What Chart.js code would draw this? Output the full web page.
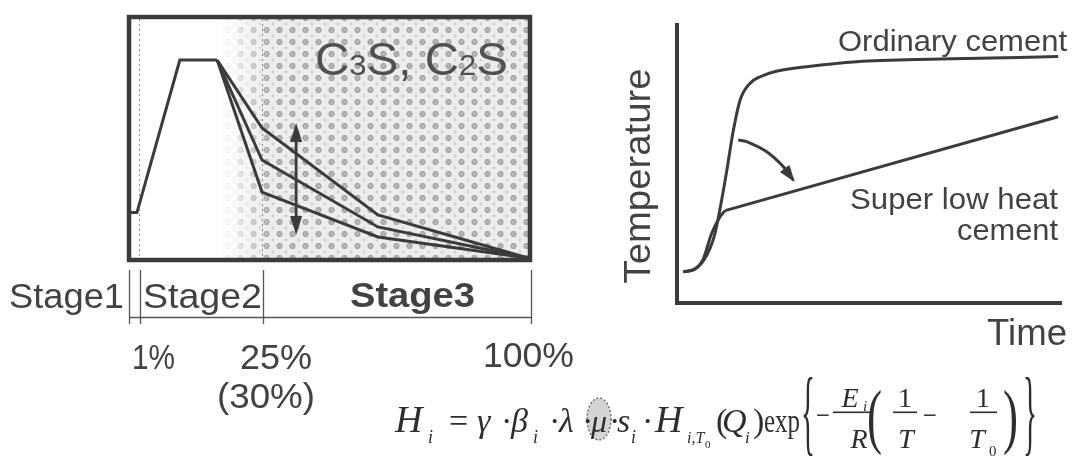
<!DOCTYPE html>
<html><head><meta charset="utf-8">
<script src="https://cdn.jsdelivr.net/npm/chart.js@4.4.1/dist/chart.umd.min.js"></script>
<style>
html,body{margin:0;padding:0;background:#fff;}
#wrap{position:relative;width:1072px;height:459px;overflow:hidden;background:#fff;}
canvas{position:absolute;left:0;top:0;}
</style></head><body>
<div id="wrap"><canvas id="left" width="1072" height="459"></canvas><canvas id="right" width="1072" height="459"></canvas></div>
<script>
// ---------- Left panel: heat generation rate by stage (schematic units 0-100) ----------
const riseT    = [0, 1.5, 12.3, 21.7];
const riseRate = [19, 19, 82.8, 82.8];
const fallT    = [21.7, 33.0, 62.2, 100];
const fallHigh = [82.8, 54.4, 18.0, 0];
const fallMid  = [82.8, 41.0, 13.0, 0];
const fallLow  = [82.8, 27.6, 8.8, 0];
const stageLabels = ['Stage1', 'Stage2', 'Stage3'];
const stageBounds = [-0.5, 2.3, 33.2, 100.8];
const stageDividers = [2, 33];
const pctLabels = ['1%', '25%', '(30%)', '100%'];
const rangeArrowT = 41.6;
const rangeArrowTop = 56.5;
const rangeArrowBottom = 9.6;
const mineralLabel = ['C', '3', 'S', ', ', 'C', '2', 'S'];

// ---------- Right panel: temperature vs time (schematic units 0-100) ----------
const ordT    = [1.6, 4.2, 6.8, 8.6, 9.9, 11.6, 13.1, 14.5, 16.4, 19.0, 21.6, 25.5, 33.7, 46.7, 68.3, 99.0];
const ordTemp = [11.2, 11.8, 15.0, 19.6, 25.0, 36.8, 48.7, 60.6, 72.5, 78.5, 80.8, 82.7, 84.4, 86.2, 87.1, 88.0];
const lowRiseT    = [1.6, 4.2, 6.8, 9.0, 11.2, 12.5];
const lowRiseTemp = [11.2, 11.8, 15.7, 24.9, 30.8, 33.0];
const lowLinT     = [12.5, 99.0];
const lowLinTemp  = [33.0, 66.5];
const shiftT    = [15.9, 18.1, 23.3, 27.6, 30.2];
const shiftTemp = [58.2, 57.6, 54.0, 48.7, 43.9];
const seriesNames = ['Ordinary cement', 'Super low heat', 'cement'];
const axisTitles = ['Temperature', 'Time'];

const SANS = '"Liberation Sans", Arial, Helvetica, sans-serif';
const SERIF = '"Liberation Serif", "DejaVu Serif", serif';
const INK = '#424242';
const LINE = '#3b3b3b';

const pts = (xs, ys) => xs.map((v, i) => ({x: v, y: ys[i]}));

function fitText(ctx, s, x, y, font, color, align, width) {
  ctx.save();
  ctx.font = font;
  ctx.fillStyle = color;
  ctx.textBaseline = 'alphabetic';
  ctx.textAlign = 'left';
  const m = ctx.measureText(s).width;
  const sx = width ? width / m : 1;
  const w = m * sx;
  let left = x;
  if (align === 'center') left = x - w / 2;
  else if (align === 'right') left = x - w;
  ctx.translate(left, y);
  ctx.scale(sx, 1);
  ctx.fillText(s, 0, 0);
  ctx.restore();
  return w;
}

function arrowHead(ctx, tx, ty, dx, dy, len, half) {
  const L = Math.hypot(dx, dy); const ux = dx / L, uy = dy / L;
  const bx = tx - ux * len, by = ty - uy * len;
  ctx.beginPath();
  ctx.moveTo(tx, ty);
  ctx.lineTo(bx - uy * half, by + ux * half);
  ctx.lineTo(bx + uy * half, by - ux * half);
  ctx.closePath();
  ctx.fill();
}

function makePattern(ctx) {
  const c = document.createElement('canvas');
  c.width = 13; c.height = 12;
  const g = c.getContext('2d');
  g.fillStyle = '#ececec'; g.fillRect(0, 0, 13, 12);
  g.fillStyle = '#9c9c9c';
  g.beginPath(); g.arc(6.5, 6, 3.0, 0, Math.PI * 2); g.fill();
  g.strokeStyle = '#dadada'; g.lineWidth = 0.8;
  g.beginPath(); g.moveTo(4.6, 4.1); g.lineTo(8.4, 7.9); g.moveTo(8.4, 4.1); g.lineTo(4.6, 7.9); g.stroke();
  g.fillStyle = '#cfcfcf';
  g.beginPath(); g.arc(0, 0, 1.4, 0, Math.PI * 2); g.fill();
  g.beginPath(); g.arc(13, 0, 1.4, 0, Math.PI * 2); g.fill();
  g.beginPath(); g.arc(0, 12, 1.4, 0, Math.PI * 2); g.fill();
  g.beginPath(); g.arc(13, 12, 1.4, 0, Math.PI * 2); g.fill();
  return ctx.createPattern(c, 'repeat');
}

const leftDeco = {
  id: 'leftDeco',
  beforeDatasetsDraw(chart) {
    const {ctx, chartArea: a, scales: {x}} = chart;
    ctx.save();
    const s0 = x.getPixelForValue(23), s1 = x.getPixelForValue(35);
    ctx.fillStyle = makePattern(ctx);
    ctx.fillRect(s0, a.top, a.right - s0, a.bottom - a.top);
    const gr = ctx.createLinearGradient(s0, 0, s1, 0);
    gr.addColorStop(0, 'rgba(255,255,255,1)');
    gr.addColorStop(1, 'rgba(255,255,255,0)');
    ctx.fillStyle = gr;
    ctx.fillRect(s0, a.top, s1 - s0, a.bottom - a.top);
    ctx.strokeStyle = '#8a8a8a'; ctx.lineWidth = 1; ctx.setLineDash([2, 3]);
    stageDividers.forEach(v => {
      const px = Math.round(x.getPixelForValue(v)) + 0.5;
      ctx.beginPath(); ctx.moveTo(px, a.top); ctx.lineTo(px, a.bottom); ctx.stroke();
    });
    ctx.restore();
  },
  afterDatasetsDraw(chart) {
    const {ctx, chartArea: a, scales: {x, y}} = chart;
    ctx.save();
    // frame
    ctx.strokeStyle = LINE; ctx.lineWidth = 4.5;
    ctx.strokeRect(a.left - 2, a.top - 2, a.right - a.left + 4, a.bottom - a.top + 4);
    // double arrow
    const ax = x.getPixelForValue(rangeArrowT);
    const y1 = y.getPixelForValue(rangeArrowTop), y2 = y.getPixelForValue(rangeArrowBottom);
    ctx.strokeStyle = LINE; ctx.fillStyle = LINE; ctx.lineWidth = 2.8;
    ctx.beginPath(); ctx.moveTo(ax, y1 + 10); ctx.lineTo(ax, y2 - 10); ctx.stroke();
    arrowHead(ctx, ax, y1, 0, -1, 19, 6);
    arrowHead(ctx, ax, y2, 0, 1, 19, 6);
    // C3S, C2S label
    const sizes = [46, 30, 46, 46, 46, 30, 46];
    let widths = mineralLabel.map((s, i) => { ctx.font = `${sizes[i]}px ${SANS}`; return ctx.measureText(s).width; });
    const total = widths.reduce((p, q) => p + q, 0);
    const sc = 193 / total;
    let cx = 315;
    ctx.fillStyle = '#505050';
    mineralLabel.forEach((s, i) => {
      ctx.save(); ctx.font = `${sizes[i]}px ${SANS}`;
      ctx.translate(cx, 75); ctx.scale(sc, 1); ctx.fillText(s, 0, 0); ctx.restore();
      cx += widths[i] * sc;
    });
    // stage brackets
    ctx.strokeStyle = '#555'; ctx.lineWidth = 1.3;
    const bx = stageBounds.map(v => Math.round(x.getPixelForValue(v)) + 0.5);
    bx.forEach(px => { ctx.beginPath(); ctx.moveTo(px, 270); ctx.lineTo(px, 324); ctx.stroke(); });
    ctx.beginPath(); ctx.moveTo(bx[0], 317.5); ctx.lineTo(bx[bx.length - 1], 317.5); ctx.stroke();
    // stage labels
    fitText(ctx, stageLabels[0], 9, 308, `35px ${SANS}`, INK, 'left', 115);
    fitText(ctx, stageLabels[1], 143, 308, `35px ${SANS}`, INK, 'left', 119);
    fitText(ctx, stageLabels[2], 350, 307, `bold 35px ${SANS}`, INK, 'left', 125);
    // percent labels
    fitText(ctx, pctLabels[0], 132, 369, `35px ${SANS}`, INK, 'left', 43);
    fitText(ctx, pctLabels[1], 240, 369, `35px ${SANS}`, INK, 'left', 72);
    fitText(ctx, pctLabels[2], 217, 408, `35px ${SANS}`, INK, 'left', 98);
    fitText(ctx, pctLabels[3], 483, 367, `35px ${SANS}`, INK, 'left', 91);
    ctx.restore();
  }
};

const rightDeco = {
  id: 'rightDeco',
  afterDatasetsDraw(chart) {
    const {ctx, chartArea: a, scales: {x, y}} = chart;
    ctx.save();
    // axes
    ctx.strokeStyle = LINE; ctx.lineWidth = 4;
    ctx.beginPath(); ctx.moveTo(a.left, a.top); ctx.lineTo(a.left, a.bottom + 2);
    ctx.moveTo(a.left - 2, a.bottom); ctx.lineTo(a.right, a.bottom); ctx.stroke();
    // arrow head of the shift arrow
    const n = shiftT.length;
    const tx = x.getPixelForValue(shiftT[n - 1]), ty = y.getPixelForValue(shiftTemp[n - 1]);
    const px = x.getPixelForValue(shiftT[n - 2]), py = y.getPixelForValue(shiftTemp[n - 2]);
    ctx.fillStyle = LINE;
    arrowHead(ctx, tx + (tx - px) * 0.15, ty + (ty - py) * 0.15, tx - px, ty - py, 17, 6);
    // series labels
    fitText(ctx, seriesNames[0], 838, 51, `29px ${SANS}`, INK, 'left', 229);
    fitText(ctx, seriesNames[1], 850, 209, `29px ${SANS}`, INK, 'left', 208);
    fitText(ctx, seriesNames[2], 1058, 240, `29px ${SANS}`, INK, 'right', 101);
    // axis titles
    fitText(ctx, axisTitles[1], 987, 345, `37px ${SANS}`, INK, 'left', 80);
    ctx.save();
    ctx.translate(650, 176); ctx.rotate(-Math.PI / 2);
    fitText(ctx, axisTitles[0], 0, 0, `37px ${SANS}`, INK, 'center', 215);
    ctx.restore();
    drawFormula(ctx);
    ctx.restore();
  }
};

function drawFormula(ctx) {
  const C = '#2e2e2e';
  const fI = p => `italic ${p}px ${SERIF}`;
  const fN = p => `${p}px ${SERIF}`;
  // circled mu
  ctx.save();
  ctx.beginPath(); ctx.ellipse(599, 419, 12, 21, 0, 0, Math.PI * 2);
  ctx.fillStyle = '#d4d4d4'; ctx.fill();
  ctx.setLineDash([2, 2]); ctx.strokeStyle = '#555'; ctx.lineWidth = 1.2; ctx.stroke();
  ctx.restore();
  const T = (s, x, y, f, w, al) => fitText(ctx, s, x, y, f, C, al || 'left', w);
  T('H', 395, 432, fI(38));
  T('i', 428, 443, fI(18));
  T('=', 449, 432, fN(34));
  T('γ', 477, 432, fI(34));
  T('·', 501, 432, fN(34));
  T('β', 511, 432, fI(34));
  T('i', 533, 443, fI(18));
  T('·', 549, 432, fN(34));
  T('λ', 559, 432, fI(34));
  T('·', 582, 432, fN(34));
  T('μ', 591, 432, fI(32));
  T('·', 609, 432, fN(34));
  T('s', 617, 432, fI(34));
  T('i', 631, 443, fI(18));
  T('·', 642, 432, fN(34));
  T('H', 655, 432, fI(38));
  T('i,T', 687, 443, fI(16));
  T('0', 705, 448, fN(11));
  T('(', 716, 432, fN(34));
  T('Q', 722, 432, fI(34));
  T('i', 745, 443, fI(17));
  T(')', 753, 432, fN(34));
  T('exp', 764, 432, fN(33), 36);
  T('{', 801, 443, fN(96), 14);
  T('−', 816, 425, fN(30), 14);
  // fraction E_i / R
  T('E', 850, 407, fI(28), null, 'center');
  T('i', 863, 411, fI(15));
  ctx.fillStyle = C; ctx.fillRect(833, 411.5, 40, 1.6);
  T('R', 859, 448, fI(28), null, 'center');
  T('(', 867, 440, fN(72), 15);
  // 1/T
  T('1', 905, 407, fN(28), null, 'center');
  ctx.fillRect(893, 411.5, 24, 1.6);
  T('T', 906, 448, fI(28), null, 'center');
  T('−', 923, 425, fN(30), 14);
  // 1/T0
  T('1', 983, 407, fN(28), null, 'center');
  ctx.fillRect(970, 411.5, 27, 1.6);
  T('T', 977, 448, fI(28), null, 'center');
  T('0', 989, 456, fN(15));
  T(')', 1003, 440, fN(72), 15);
  T('}', 1023, 443, fN(96), 14);
}

const common = {
  responsive: false, animation: false, devicePixelRatio: 1,
  plugins: {legend: {display: false}, tooltip: {enabled: false}, title: {display: false}},
  elements: {point: {radius: 0}}
};

new Chart(document.getElementById('left'), {
  type: 'line',
  data: {datasets: [
    {data: pts(riseT, riseRate), borderColor: LINE, borderWidth: 3, tension: 0, clip: false},
    {data: pts(fallT, fallHigh), borderColor: LINE, borderWidth: 3, tension: 0, clip: false},
    {data: pts(fallT, fallMid), borderColor: LINE, borderWidth: 3, tension: 0, clip: false},
    {data: pts(fallT, fallLow), borderColor: LINE, borderWidth: 3, tension: 0, clip: false}
  ]},
  options: Object.assign({}, common, {
    layout: {padding: {left: 131, right: 544, top: 19, bottom: 201}},
    scales: {x: {type: 'linear', min: 0, max: 100, display: false}, y: {type: 'linear', min: 0, max: 100, display: false}}
  }),
  plugins: [leftDeco]
});

new Chart(document.getElementById('right'), {
  type: 'line',
  data: {datasets: [
    {data: pts(ordT, ordTemp), borderColor: LINE, borderWidth: 3, cubicInterpolationMode: 'monotone', clip: false},
    {data: pts(lowRiseT, lowRiseTemp), borderColor: LINE, borderWidth: 3, cubicInterpolationMode: 'monotone', clip: false},
    {data: pts(lowLinT, lowLinTemp), borderColor: LINE, borderWidth: 3, tension: 0, clip: false},
    {data: pts(shiftT, shiftTemp), borderColor: LINE, borderWidth: 3, tension: 0.4, clip: false}
  ]},
  options: Object.assign({}, common, {
    layout: {padding: {left: 677, right: 10, top: 23, bottom: 156}},
    scales: {x: {type: 'linear', min: 0, max: 100, display: false}, y: {type: 'linear', min: 0, max: 100, display: false}}
  }),
  plugins: [rightDeco]
});
</script></body></html>
